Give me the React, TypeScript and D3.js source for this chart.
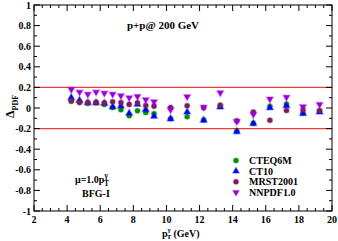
import { useEffect } from 'react'
import * as d3 from 'd3'

const ptBins = [4.25, 4.75, 5.25, 5.75, 6.25, 6.75, 7.25, 7.75, 8.25, 8.75, 9.25, 10.25, 11.25, 12.25, 13.25, 14.25, 15.25, 16.25, 17.25, 18.25, 19.25]
const cteq6m = [0.07, 0.06, 0.05, 0.055, 0.04, 0.01, -0.012, -0.07, -0.022, -0.038, -0.05, -0.1, -0.08, -0.112, 0.025, -0.22, -0.143, 0.02, 0.042, -0.044, -0.025]
const ct10 = [0.105, 0.08, 0.055, 0.055, 0.05, 0.016, 0.023, -0.046, 0.04, -0.01, -0.076, -0.1, -0.035, -0.114, 0.013, -0.225, -0.146, 0.007, 0.026, -0.05, -0.035]
const mrst2001 = [0.076, 0.06, 0.057, 0.06, 0.056, 0.066, 0.057, 0.04, 0.056, 0.03, 0.023, 0.01, 0.026, 0.007, 0.032, -0.12, -0.035, -0.114, -0.019, -0.012, -0.022]
const nnpdf10 = [0.175, 0.15, 0.13, 0.15, 0.14, 0.13, 0.115, 0.095, 0.108, 0.075, 0.057, -0.022, 0.105, 0.004, 0.143, -0.136, -0.067, 0.083, 0.1, 0.008, 0.03]
const xTicks = [2, 4, 6, 8, 10, 12, 14, 16, 18, 20]
const yTicks = [-1, -0.8, -0.6, -0.4, -0.2, 0, 0.2, 0.4, 0.6, 0.8, 1]
const bandLimits = [0.2, -0.2]

const series = [
  { name: 'CTEQ6M', values: cteq6m, color: '#009000', symbol: d3.symbolCircle, rot: 0 },
  { name: 'CT10', values: ct10, color: '#0000ff', symbol: d3.symbolTriangle, rot: 0 },
  { name: 'MRST2001', values: mrst2001, color: '#7a1d5e', symbol: d3.symbolCircle, rot: 0 },
  { name: 'NNPDF1.0', values: nnpdf10, color: '#9a00d8', symbol: d3.symbolTriangle, rot: 180 },
]

export default function App() {
  useEffect(() => {
    document.body.style.margin = '0'
  }, [])

  const margin = { top: 5, right: 6, bottom: 30, left: 34 }
  const width = 338
  const height = 241
  const x = d3.scaleLinear().domain([2, 20]).range([margin.left, width - margin.right])
  const y = d3.scaleLinear().domain([-1, 1]).range([height - margin.bottom, margin.top])

  const font = "'Liberation Serif', 'DejaVu Serif', serif"
  const xMinor = d3.range(2, 20.01, 0.5)
  const yMinor = d3.range(-1, 1.001, 0.1)
  const symbolPath = (s: d3.SymbolType, size: number) => d3.symbol().type(s).size(size)()!

  const x0 = x.range()[0], x1 = x.range()[1]
  const y0 = y.range()[0], y1 = y.range()[1]

  return (
    <svg width={width} height={height} style={{ display: 'block', background: '#fff' }} fontFamily={font}>
      {/* band lines */}
      {bandLimits.map(v => (
        <line key={v} x1={x0} x2={x1} y1={y(v)} y2={y(v)} stroke="#f03c3c" strokeWidth={1.3} />
      ))}

      {/* frame */}
      <rect x={x0} y={y1} width={x1 - x0} height={y0 - y1} fill="none" stroke="#000" strokeWidth={1} />

      {/* x ticks */}
      {xMinor.map(v => {
        const major = Math.abs(v % 2) < 1e-6
        const len = major ? 6 : 3
        return (
          <g key={'xt' + v}>
            <line x1={x(v)} x2={x(v)} y1={y0} y2={y0 - len} stroke="#000" />
            <line x1={x(v)} x2={x(v)} y1={y1} y2={y1 + len} stroke="#000" />
          </g>
        )
      })}
      {xTicks.map(v => (
        <text key={'xl' + v} x={x(v)} y={y0 + 12} textAnchor="middle" fontSize={10} fontWeight="bold">{v}</text>
      ))}

      {/* y ticks */}
      {yMinor.map((v, i) => {
        const major = i % 2 === 0
        const len = major ? 6 : 3
        return (
          <g key={'yt' + i}>
            <line x1={x0} x2={x0 + len} y1={y(v)} y2={y(v)} stroke="#000" />
            <line x1={x1} x2={x1 - len} y1={y(v)} y2={y(v)} stroke="#000" />
          </g>
        )
      })}
      {yTicks.map(v => (
        <text key={'yl' + v} x={x0 - 3} y={y(v) + 3.5} textAnchor="end" fontSize={10} fontWeight="bold">
          {v === 0 ? '0' : String(v)}
        </text>
      ))}

      {/* points */}
      {series.map(s => (
        <g key={s.name}>
          {s.values.map((v, i) => (
            <path
              key={i}
              d={symbolPath(s.symbol, s.symbol === d3.symbolCircle ? 20 : 19)}
              transform={`translate(${x(ptBins[i])},${y(v) + (s.rot ? -0.5 : 0.5)}) rotate(${s.rot})`}
              fill={s.color}
              stroke={s.color}
              strokeOpacity={0.3}
              strokeWidth={1.6}
            />
          ))}
        </g>
      ))}

      {/* title and notes */}
      <text x={163} y={29} textAnchor="middle" fontSize={11} fontWeight="bold">p+p@ 200 GeV</text>
      <text x={75} y={183} fontSize={10} fontWeight="bold">
        μ=1.0p
        <tspan fontSize={7.5} dy={-5}>γ</tspan>
        <tspan fontSize={7.5} dx={-4} dy={8}>T</tspan>
      </text>
      <text x={82} y={197} fontSize={10} fontWeight="bold">BFG-I</text>

      {/* legend */}
      {series.map((s, i) => (
        <g key={'lg' + s.name} transform={`translate(236,${160.5 + i * 10.6})`}>
          <path
            d={symbolPath(s.symbol, s.symbol === d3.symbolCircle ? 20 : 18)}
            transform={`rotate(${s.rot})`}
            fill={s.color}
            stroke={s.color}
            strokeOpacity={0.3}
            strokeWidth={1.4}
          />
          <text x={13} y={3.5} fontSize={10} fontWeight="bold">{s.name}</text>
        </g>
      ))}

      {/* axis titles */}
      <text x={162} y={236.5} fontSize={10} fontWeight="bold">
        p
        <tspan fontSize={7} dy={-4.5}>γ</tspan>
        <tspan fontSize={7} dx={-4} dy={7}>T</tspan>
        <tspan fontSize={10} dx={2} dy={-2.5}>(GeV)</tspan>
      </text>
      <text transform={`translate(14,${y(0) + 10}) rotate(-90)`} fontSize={12} fontWeight="bold">
        Δ
        <tspan fontSize={8} dy={4}>PDF</tspan>
      </text>
    </svg>
  )
}
